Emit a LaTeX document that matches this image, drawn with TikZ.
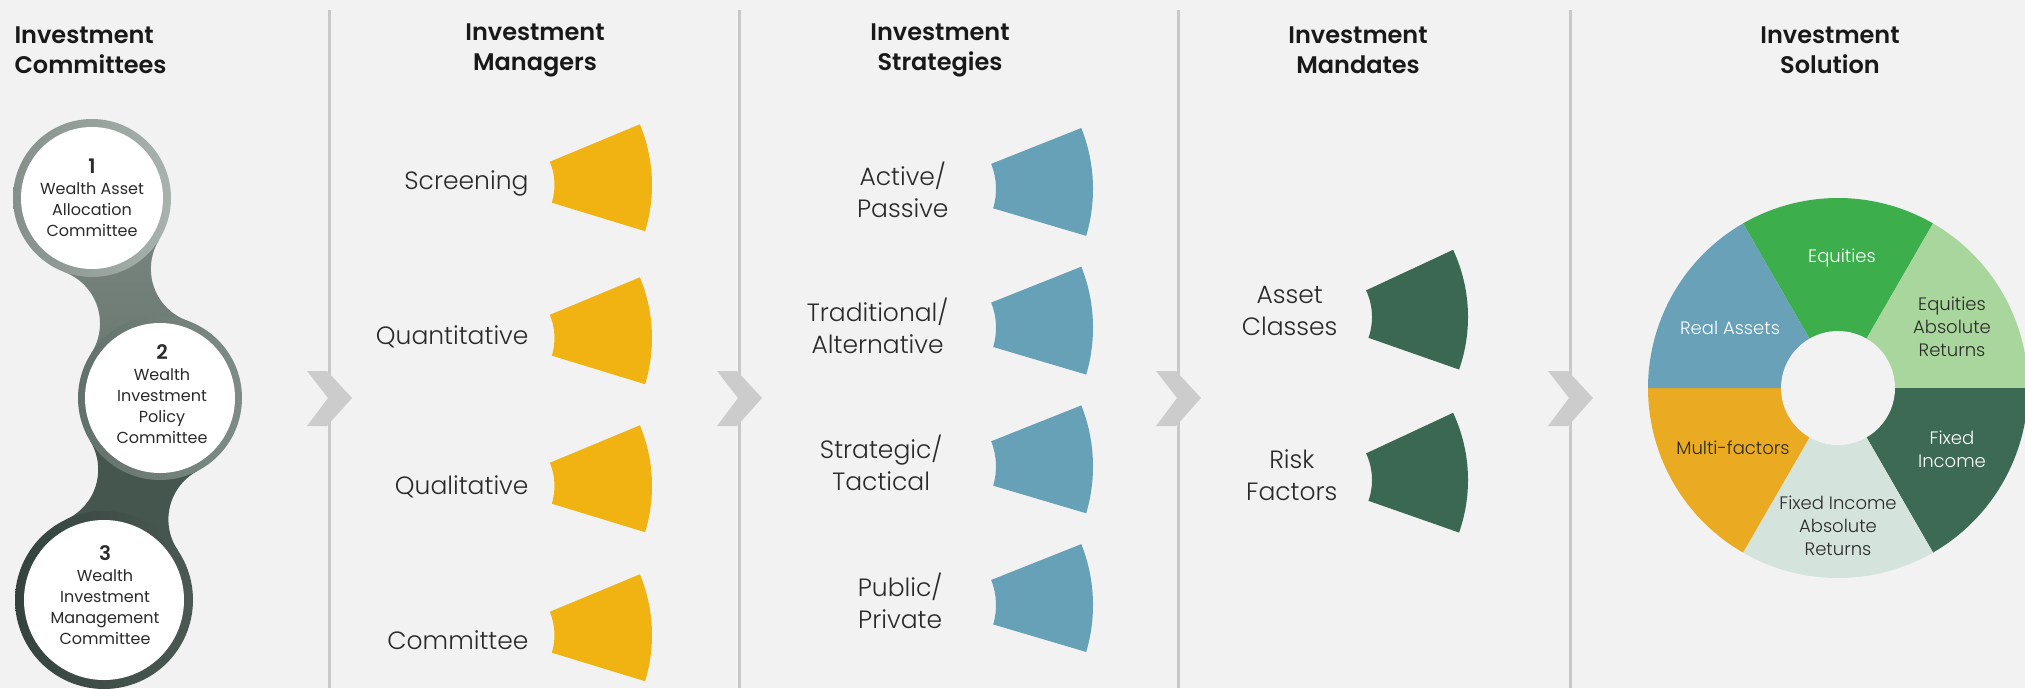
\documentclass[tikz,border=0pt]{standalone}
\usepackage{fontspec}
\setmainfont{Poppins}
\newfontfamily\lightfont{Poppins Light}
\newfontfamily\headfont{Poppins SemiBold}

\definecolor{paper}{HTML}{F2F2F2}
\definecolor{ink}{HTML}{2A2A2A}
\definecolor{rulegray}{HTML}{C8C8C8}
\definecolor{chevgray}{HTML}{CCCCCC}
\definecolor{fanyellow}{HTML}{F0B311}
\definecolor{fanblue}{HTML}{66A1B8}
\definecolor{fangreen}{HTML}{3B6852}
\definecolor{ringOneL}{HTML}{85908B}
\definecolor{ringOneR}{HTML}{A9B3AE}
\definecolor{ringTwoL}{HTML}{627169}
\definecolor{ringTwoR}{HTML}{7E8C86}
\definecolor{ringThreeL}{HTML}{34433D}
\definecolor{ringThreeR}{HTML}{4A5A53}
\definecolor{bandOneT}{HTML}{7C8882}
\definecolor{bandOneB}{HTML}{67766F}
\definecolor{bandTwo}{HTML}{45564F}
\definecolor{slEquities}{HTML}{3DAE4C}
\definecolor{slEqAbs}{HTML}{A9D69C}
\definecolor{slFixed}{HTML}{3D6A55}
\definecolor{slFixedAbs}{HTML}{D4E4DC}
\definecolor{slMulti}{HTML}{EAAA21}
\definecolor{slReal}{HTML}{68A1B8}

\tikzset{
  heading/.style={font=\headfont\fontsize{24}{30}\selectfont, align=center, text=black!90},
  lbl/.style={font=\lightfont\fontsize{25}{32}\selectfont, align=center, text=ink, anchor=east},
  circtext/.style={font=\fontsize{16}{21}\selectfont, align=center, text=ink},
  slice/.style={font=\lightfont\fontsize{18}{23.3}\selectfont, align=center},
  colrule/.style={draw=rulegray, line width=3pt},
}

\begin{document}
\begin{tikzpicture}[x=1pt, y=-1pt]
\useasboundingbox (0, 0) rectangle (2025, 688);
\fill[paper] (0, 0) rectangle (2025, 688);

% column rules
\draw[colrule] ( 329, 10) -- ( 329, 688);
\draw[colrule] ( 739, 10) -- ( 739, 688);
\draw[colrule] (1178, 10) -- (1178, 688);
\draw[colrule] (1570, 10) -- (1570, 688);

% chevrons on the rules
\fill[chevgray] ( 307, 371) -- ( 327, 371) -- ( 352, 398) -- ( 327, 426) -- ( 307, 426) -- ( 328, 398) -- cycle;
\fill[chevgray] ( 717, 371) -- ( 737, 371) -- ( 762, 398) -- ( 737, 426) -- ( 717, 426) -- ( 738, 398) -- cycle;
\fill[chevgray] (1156, 371) -- (1176, 371) -- (1201, 398) -- (1176, 426) -- (1156, 426) -- (1177, 398) -- cycle;
\fill[chevgray] (1548, 371) -- (1568, 371) -- (1593, 398) -- (1568, 426) -- (1548, 426) -- (1569, 398) -- cycle;

% headings
\draw (  11, 50) node[heading, align=left, anchor=west] (hdCommittees) {Investment\\Committees};
\draw ( 535, 50) node[heading] (hdManagers)   {Investment\\Managers};
\draw ( 940, 50) node[heading] (hdStrategies) {Investment\\Strategies};
\draw (1358, 50) node[heading] (hdMandates)   {Investment\\Mandates};
\draw (1830, 50) node[heading] (hdSolution)   {Investment\\Solution};

% committee chain: necks between the rings
\shade[top color=bandOneT, bottom color=bandOneB]
  (64.3, 272.0) arc[start angle=-69.5, end angle=32.9, radius=55] -- (160, 398)
  -- (187.4, 320.7) arc[start angle=109.6, end angle=211.9, radius=55] -- (92, 198) -- cycle;
\fill[bandTwo]
  (90.1, 440.8) arc[start angle=-31.5, end angle=65, radius=55] -- (104, 600)
  -- (177.8, 550.2) arc[start angle=146, end angle=242.4, radius=55] -- (160, 398) -- cycle;

\shade[left color=ringOneL, right color=ringOneR] (92, 198) circle[radius=79];
\fill[white] (92, 198) circle[radius=71];
\shade[left color=ringTwoL, right color=ringTwoR] (160, 398) circle[radius=82];
\fill[white] (160, 398) circle[radius=75];
\shade[left color=ringThreeL, right color=ringThreeR] (104, 600) circle[radius=89];
\fill[white] (104, 600) circle[radius=80];

\draw ( 92, 198) node[circtext] (cmtOne)   {{\headfont\fontsize{20}{21}\selectfont 1}\\Wealth Asset\\Allocation\\Committee};
\draw (162, 394) node[circtext] (cmtTwo)   {{\headfont\fontsize{20}{21}\selectfont 2}\\Wealth\\Investment\\Policy\\Committee};
\draw (105, 595) node[circtext] (cmtThree) {{\headfont\fontsize{20}{21}\selectfont 3}\\Wealth\\Investment\\Management\\Committee};

% managers
\fill[fanyellow, shift={(494, 185)}] (-22.6:60.5) -- (-22.6:158) arc[start angle=-22.6, end angle=17, radius=158] -- (17:60.5) arc[start angle=17, end angle=-22.6, radius=60.5] -- cycle;
\fill[fanyellow, shift={(494, 338)}] (-22.6:60.5) -- (-22.6:158) arc[start angle=-22.6, end angle=17, radius=158] -- (17:60.5) arc[start angle=17, end angle=-22.6, radius=60.5] -- cycle;
\fill[fanyellow, shift={(494, 486)}] (-22.6:60.5) -- (-22.6:158) arc[start angle=-22.6, end angle=17, radius=158] -- (17:60.5) arc[start angle=17, end angle=-22.6, radius=60.5] -- cycle;
\fill[fanyellow, shift={(494, 635)}] (-22.6:60.5) -- (-22.6:158) arc[start angle=-22.6, end angle=17, radius=158] -- (17:60.5) arc[start angle=17, end angle=-22.6, radius=60.5] -- cycle;

\draw (532, 183) node[lbl] (screening)    {Screening};
\draw (532, 337) node[lbl] (quantitative) {Quantitative};
\draw (532, 487) node[lbl] (qualitative)  {Qualitative};
\draw (532, 640) node[lbl] (committee)    {Committee};

% strategies
\fill[fanblue, shift={(928, 189)}] (-21.7:68) -- (-21.7:165) arc[start angle=-21.7, end angle=16.5, radius=165] -- (16.5:68) arc[start angle=16.5, end angle=-21.7, radius=68] -- cycle;
\fill[fanblue, shift={(928, 327.7)}] (-21.7:68) -- (-21.7:165) arc[start angle=-21.7, end angle=16.5, radius=165] -- (16.5:68) arc[start angle=16.5, end angle=-21.7, radius=68] -- cycle;
\fill[fanblue, shift={(928, 466.4)}] (-21.7:68) -- (-21.7:165) arc[start angle=-21.7, end angle=16.5, radius=165] -- (16.5:68) arc[start angle=16.5, end angle=-21.7, radius=68] -- cycle;
\fill[fanblue, shift={(928, 605.1)}] (-21.7:68) -- (-21.7:165) arc[start angle=-21.7, end angle=16.5, radius=165] -- (16.5:68) arc[start angle=16.5, end angle=-21.7, radius=68] -- cycle;

\draw (952, 190) node[lbl] (activePassive) {Active/\\Passive};
\draw (952, 326) node[lbl] (tradAlt)       {Traditional/\\Alternative};
\draw (946, 463) node[lbl] (stratTact)     {Strategic/\\Tactical};
\draw (946, 601) node[lbl] (publicPrivate) {Public/\\Private};

% mandates
\fill[fangreen, shift={(1309, 317)}] (-25:63) -- (-25:159) arc[start angle=-25, end angle=19.3, radius=159] -- (19.3:63) arc[start angle=19.3, end angle=-25, radius=63] -- cycle;
\fill[fangreen, shift={(1309, 480)}] (-25:63) -- (-25:159) arc[start angle=-25, end angle=19.3, radius=159] -- (19.3:63) arc[start angle=19.3, end angle=-25, radius=63] -- cycle;

\draw (1341, 311) node[lbl] (assetClasses) {Asset\\Classes};
\draw (1341, 475) node[lbl] (riskFactors)  {Risk\\Factors};

% solution wheel
\fill[slEquities, shift={(1838, 388)}]  (0, 0) -- (-120:190) arc[start angle=-120, end angle=-60, radius=190] -- cycle;
\fill[slEqAbs, shift={(1838, 388)}]     (0, 0) -- (-60:190)  arc[start angle=-60,  end angle=0,   radius=190] -- cycle;
\fill[slFixed, shift={(1838, 388)}]     (0, 0) -- (0:190)    arc[start angle=0,    end angle=60,  radius=190] -- cycle;
\fill[slFixedAbs, shift={(1838, 388)}]  (0, 0) -- (60:190)   arc[start angle=60,   end angle=120, radius=190] -- cycle;
\fill[slMulti, shift={(1838, 388)}]     (0, 0) -- (120:190)  arc[start angle=120,  end angle=180, radius=190] -- cycle;
\fill[slReal, shift={(1838, 388)}]      (0, 0) -- (180:190)  arc[start angle=180,  end angle=240, radius=190] -- cycle;
\fill[paper] (1838, 388) circle[radius=57];

\draw (1842, 258) node[slice, text=white] (equities)   {Equities};
\draw (1952, 327) node[slice, text=ink]   (eqAbs)      {Equities\\Absolute\\Returns};
\draw (1952, 449) node[slice, text=white] (fixedInc)   {Fixed\\Income};
\draw (1838, 526) node[slice, text=ink]   (fixedAbs)   {Fixed Income\\Absolute\\Returns};
\draw (1733, 448) node[slice, text=ink]   (multi)      {Multi-factors};
\draw (1730, 328) node[slice, text=white] (realAssets) {Real Assets};

\end{tikzpicture}
\end{document}
